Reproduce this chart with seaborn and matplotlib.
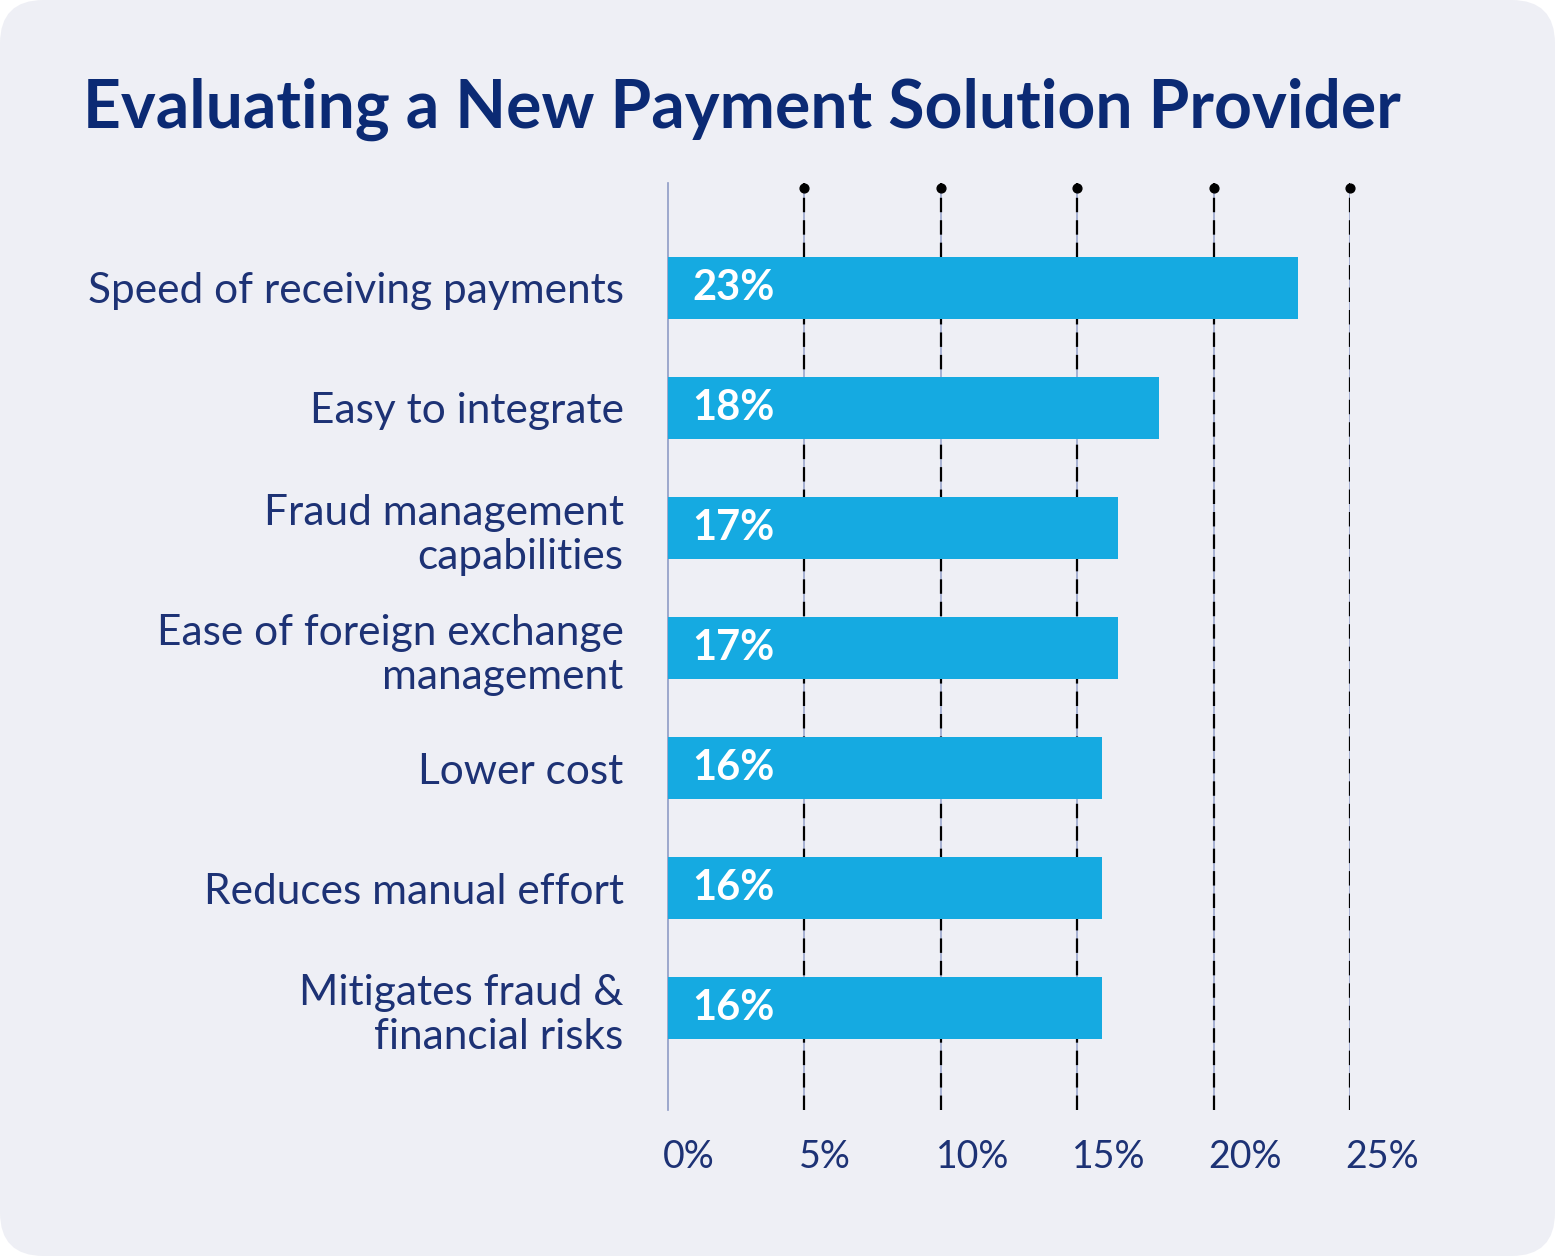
import matplotlib
matplotlib.use("Agg")
import matplotlib.pyplot as plt
from matplotlib.patches import FancyBboxPatch
from matplotlib.transforms import offset_copy
import seaborn as sns
import pandas as pd

categories = [
    "Speed of receiving payments",
    "Easy to integrate",
    "Fraud management\ncapabilities",
    "Ease of foreign exchange\nmanagement",
    "Lower cost",
    "Reduces manual effort",
    "Mitigates fraud &\nfinancial risks",
]
shares = [23.1, 18.0, 16.5, 16.5, 15.9, 15.9, 15.9]
share_labels = ["23%", "18%", "17%", "17%", "16%", "16%", "16%"]
ticks = [0, 5, 10, 15, 20, 25]
tick_labels = ["0%", "5%", "10%", "15%", "20%", "25%"]

df = pd.DataFrame({"factor": categories, "share": shares})

navy = "#0B2A74"
text_col = "#1D3275"
bar_col = "#15AAE1"
panel = "#EEEFF5"

sns.set_style("white")
plt.rcParams["font.family"] = ["Lato", "DejaVu Sans"]

fig = plt.figure(figsize=(15.55, 12.56), dpi=100, facecolor="white")
bg = FancyBboxPatch((0, 0), 1, 1, boxstyle="round,pad=0,rounding_size=0.028",
                    transform=fig.transFigure, mutation_aspect=1555 / 1256,
                    facecolor=panel, edgecolor="none", zorder=-5)
fig.patches.append(bg)

ax = fig.add_axes([668 / 1555, 1 - 1110 / 1256, (1350 - 668) / 1555, (1110 - 183) / 1256])
ax.set_facecolor("none")
ax.set_zorder(2)

sns.barplot(data=df, x="share", y="factor", orient="h", color=bar_col,
            saturation=1, width=0.52, linewidth=0, ax=ax, zorder=3)

ax.set_xlim(0, 25)
ax.set_ylim(6.85, -0.875)

# dashed guides with a dot on top
for t in ticks[1:]:
    ax.axvline(t, color="#9AA6CC", lw=1.2, zorder=1)
    ax.axvline(t, color="black", lw=1.6, dashes=(6.5, 3.6), zorder=2)
ax.scatter(ticks[1:], [0.995] * 5, s=40, color="black",
           transform=ax.get_xaxis_transform(), clip_on=False, zorder=4)

for i, lab in enumerate(share_labels):
    ax.text(0.9, i, lab, color="white", fontsize=30, fontweight="bold",
            va="center", ha="left", zorder=5)

for s in ["top", "right", "bottom"]:
    ax.spines[s].set_visible(False)
ax.spines["left"].set_color("#8E9BC6")
ax.spines["left"].set_linewidth(1.2)

ax.set_xticks(ticks)
ax.set_xticklabels(tick_labels)
ax.tick_params(axis="x", length=0, pad=21, labelsize=27, labelcolor=text_col)
for lbl in ax.get_xticklabels():
    lbl.set_horizontalalignment("left")
    lbl.set_fontweight("normal")
    lbl.set_color(text_col)
    lbl.set_transform(offset_copy(lbl.get_transform(), fig=fig, x=-5, y=0, units="dots"))

ax.tick_params(axis="y", length=0, pad=32, labelsize=30.5, labelcolor=text_col)
for lbl in ax.get_yticklabels():
    lbl.set_fontweight("normal")
    lbl.set_color(text_col)
    lbl.set_linespacing(1.2)

ax.set_xlabel("")
ax.set_ylabel("")

fig.text(83 / 1555, 1 - 128 / 1256, "Evaluating a New Payment Solution Provider",
         fontsize=47.5, fontweight="bold", color=navy, ha="left", va="baseline")

fig.savefig("out.png", dpi=100, facecolor="white")
